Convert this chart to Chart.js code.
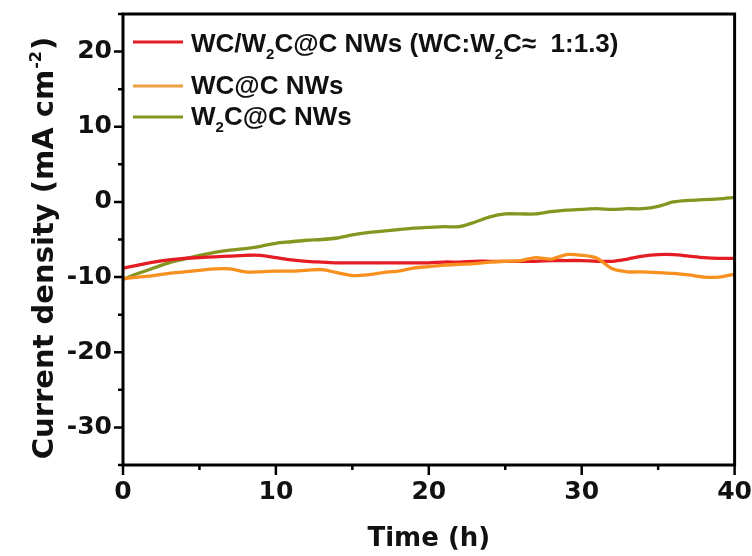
<!DOCTYPE html>
<html>
<head>
<meta charset="utf-8">
<script src="https://cdn.jsdelivr.net/npm/chart.js@4.4.1/dist/chart.umd.min.js"></script>
<style>
  html, body { margin: 0; padding: 0; background: #fff; }
  #wrap { width: 752px; height: 556px; position: relative; }
</style>
</head>
<body>
<div id="wrap"><canvas id="myChart" width="752" height="556"></canvas></div>
<script>
// time axis (h)
const hours = [0,1,2,3,4,5,6,7,8,9,10,11,12,13,14,15,16,17,18,19,20,
  21,22,23,24,25,26,27,28,29,30,31,32,33,34,35,36,37,38,39,40];

// WC/W2C@C NWs
const mixedValues = [-8.8,-8.4,-8.0,-7.7,-7.5,-7.4,-7.3,-7.2,-7.1,-7.1,-7.4,
  -7.7,-7.9,-8.0,-8.1,-8.1,-8.1,-8.1,-8.1,-8.1,-8.1,
  -8.0,-8.0,-7.9,-7.9,-7.9,-7.9,-7.9,-7.8,-7.8,-7.8,
  -7.9,-7.9,-7.6,-7.2,-7.0,-7.0,-7.2,-7.4,-7.5,-7.5];

// WC@C NWs
const wcValues = [-10.2,-10.0,-9.8,-9.5,-9.3,-9.1,-8.9,-8.9,-9.3,-9.3,-9.2,
  -9.2,-9.1,-9.0,-9.4,-9.8,-9.7,-9.4,-9.2,-8.8,-8.6,
  -8.4,-8.3,-8.2,-8.0,-7.9,-7.8,-7.4,-7.6,-7.0,-7.1,
  -7.5,-8.9,-9.3,-9.3,-9.4,-9.5,-9.7,-10.0,-10.0,-9.6];

// W2C@C NWs
const w2cValues = [-10.3,-9.5,-8.8,-8.1,-7.6,-7.1,-6.7,-6.4,-6.2,-5.9,-5.5,
  -5.3,-5.1,-5.0,-4.8,-4.4,-4.1,-3.9,-3.7,-3.5,-3.4,
  -3.3,-3.3,-2.7,-2.0,-1.6,-1.6,-1.6,-1.3,-1.1,-1.0,
  -0.9,-1.0,-0.9,-0.9,-0.6,0.0,0.2,0.3,0.4,0.6];

const xTicks = [0, 10, 20, 30, 40];
const yTicks = [-30, -20, -10, 0, 10, 20];

const RED = '#e41d25';
const ORANGE = '#f7901e';
const GREEN = '#869520';
const LEG_FONT = '"Liberation Sans", Arial, sans-serif';
const AX_FONT = '"DejaVu Sans", sans-serif';

const pts = vals => hours.map((h, i) => ({ x: h, y: vals[i] }));

// legend rows, with subscript pieces
const legendRows = [
  { color: RED, line: 42, base: 52, parts: [['WC/W'], ['2', 1], ['C@C NWs (WC:W'], ['2', 1], ['C\u2248  1:1.3)']] },
  { color: '#e8a040', line: 86, base: 94, parts: [['WC@C NWs']] },
  { color: GREEN, line: 117, base: 125, parts: [['W'], ['2', 1], ['C@C NWs']] }
];

const decor = {
  id: 'decor',
  afterDraw(chart) {
    const { ctx, chartArea: a, scales: { x, y } } = chart;
    ctx.save();
    ctx.strokeStyle = '#000';
    ctx.lineWidth = 3;
    ctx.strokeRect(a.left, a.top, a.right - a.left, a.bottom - a.top);

    // tick marks, major + minor
    ctx.lineWidth = 2.5;
    ctx.beginPath();
    for (let v = 0; v <= 40; v += 5) {
      const px = x.getPixelForValue(v);
      const len = v % 10 === 0 ? 10 : 5;
      ctx.moveTo(px, a.bottom);
      ctx.lineTo(px, a.bottom + len);
    }
    for (let v = -35; v <= 25; v += 5) {
      const py = y.getPixelForValue(v);
      const len = v % 10 === 0 ? 9 : 5;
      ctx.moveTo(a.left, py);
      ctx.lineTo(a.left - len, py);
    }
    ctx.stroke();

    // x title
    ctx.fillStyle = '#111';
    ctx.textAlign = 'center';
    ctx.textBaseline = 'alphabetic';
    ctx.font = 'bold 26px ' + AX_FONT;
    ctx.fillText('Time (h)', (a.left + a.right) / 2, 546);

    // y title with superscript
    ctx.textAlign = 'left';
    ctx.translate(53, 249);
    ctx.rotate(-Math.PI / 2);
    const big = 'bold 29px ' + AX_FONT;
    const small = 'bold 16px ' + AX_FONT;
    const t1 = 'Current density (mA cm';
    const t2 = '-2';
    const t3 = ')';
    ctx.font = big;
    const w1 = ctx.measureText(t1).width, w3 = ctx.measureText(t3).width;
    ctx.font = small;
    const w2 = ctx.measureText(t2).width;
    let sx = -(w1 + w2 + w3) / 2;
    ctx.font = big;
    ctx.fillText(t1, sx, 0);
    sx += w1;
    ctx.font = small;
    ctx.fillText(t2, sx + 1, -12);
    sx += w2 + 2;
    ctx.font = big;
    ctx.fillText(t3, sx, 0);
    ctx.restore();

    // legend
    ctx.save();
    ctx.textBaseline = 'alphabetic';
    legendRows.forEach(r => {
      ctx.strokeStyle = r.color;
      ctx.lineWidth = 3;
      ctx.beginPath();
      ctx.moveTo(133, r.line);
      ctx.lineTo(183, r.line);
      ctx.stroke();
      let px = 191;
      ctx.fillStyle = '#111';
      r.parts.forEach(p => {
        ctx.font = p[1] ? 'bold 15px ' + LEG_FONT : 'bold 26px ' + LEG_FONT;
        ctx.fillText(p[0], px, p[1] ? r.base + 7 : r.base);
        px += ctx.measureText(p[0]).width;
      });
    });
    ctx.restore();
  }
};

const hiddenGrid = { display: true, drawOnChartArea: false, drawTicks: true, color: 'rgba(0,0,0,0)' };
const tickFont = { family: AX_FONT, size: 25, weight: 'bold', lineHeight: 1 };

new Chart(document.getElementById('myChart'), {
  type: 'line',
  data: {
    datasets: [
      { label: 'WC@C NWs', data: pts(wcValues), borderColor: ORANGE },
      { label: 'WC/W2C@C NWs', data: pts(mixedValues), borderColor: RED },
      { label: 'W2C@C NWs', data: pts(w2cValues), borderColor: GREEN }
    ].map(d => Object.assign(d, { borderWidth: 3.3, pointRadius: 0, tension: 0.3, fill: false }))
  },
  options: {
    responsive: false,
    animation: false,
    layout: { padding: { top: 14, right: 17, left: 0, bottom: 0 } },
    plugins: { legend: { display: false }, tooltip: { enabled: false } },
    scales: {
      x: {
        type: 'linear', min: 0, max: 40,
        afterFit: s => { s.height = 91; },
        afterBuildTicks: s => { s.ticks = xTicks.map(v => ({ value: v })); },
        grid: Object.assign({ tickLength: 15 }, hiddenGrid),
        border: { display: false },
        ticks: { padding: 0, color: '#111', font: tickFont }
      },
      y: {
        type: 'linear', min: -35, max: 25,
        afterFit: s => { s.width = 123; },
        afterBuildTicks: s => { s.ticks = yTicks.map(v => ({ value: v })); },
        grid: Object.assign({ tickLength: 11 }, hiddenGrid),
        border: { display: false },
        ticks: { padding: 0, color: '#111', font: tickFont }
      }
    }
  },
  plugins: [decor]
});
</script>
</body>
</html>
